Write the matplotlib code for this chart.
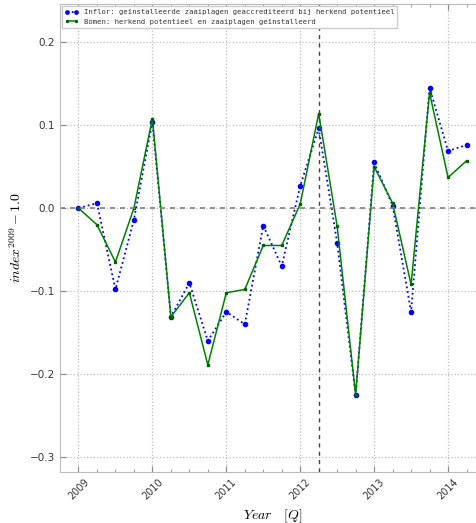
import matplotlib
matplotlib.use("Agg")
import matplotlib.pyplot as plt
from matplotlib.ticker import MultipleLocator

plt.rcParams["mathtext.fontset"] = "cm"

quarters = [2009.0, 2009.25, 2009.5, 2009.75, 2010.0, 2010.25, 2010.5, 2010.75,
            2011.0, 2011.25, 2011.5, 2011.75, 2012.0, 2012.25, 2012.5, 2012.75,
            2013.0, 2013.25, 2013.5, 2013.75, 2014.0, 2014.25]
inflor = [0.0, 0.006, -0.098, -0.014, 0.104, -0.131, -0.090, -0.160,
          -0.125, -0.140, -0.021, -0.070, 0.027, 0.096, -0.042, -0.225,
          0.055, 0.003, -0.125, 0.145, 0.069, 0.076]
bomen = [0.0, -0.020, -0.065, 0.0, 0.108, -0.131, -0.102, -0.189,
         -0.102, -0.098, -0.045, -0.045, 0.005, 0.114, -0.022, -0.225,
         0.050, 0.006, -0.092, 0.139, 0.037, 0.057]
year_ticks = [2009, 2010, 2011, 2012, 2013, 2014]
y_ticks = [-0.3, -0.2, -0.1, 0.0, 0.1, 0.2]
label_inflor = "Inflor: geïnstalleerde zaaiplagen geaccrediteerd bij herkend potentieel"
label_bomen = "Bomen: herkend potentieel en zaaiplagen geïnstalleerd"

fig = plt.figure(figsize=(4.77, 5.23), dpi=100)
ax = fig.add_axes([60/477, 1 - 472/523, 425/477, 468/523])

ax.plot(quarters, inflor, color="blue", linestyle=":", marker="o", markersize=3,
        linewidth=1.3, label=label_inflor)
ax.plot(quarters, bomen, color="green", linestyle="-", marker="s", markersize=1.6,
        markerfacecolor="darkgreen", markeredgecolor="darkgreen", linewidth=1.1,
        label=label_bomen)
ax.axhline(0.0, color="gray", linestyle="--", linewidth=1.2, dashes=(3, 3))
ax.axvline(2012.25, color="#444444", linestyle="--", linewidth=1.0, dashes=(3, 3))

ax.set_xlim(2008.75, 2014.5)
ax.set_ylim(-0.318, 0.246)
ax.set_xticks(year_ticks)
ax.set_xticklabels([str(y) for y in year_ticks], rotation=45, fontsize=7)
ax.xaxis.set_minor_locator(MultipleLocator(0.25))
ax.set_yticks(y_ticks)
ax.set_yticklabels([f"{v:.1f}".replace("-", "\u2212") for v in y_ticks], fontsize=7.5)
ax.tick_params(direction="in", top=True, right=True, which="both", colors="#888888",
               labelcolor="#333333")
ax.tick_params(which="major", length=4)
ax.tick_params(which="minor", length=2)
ax.grid(True, which="major", linestyle=":", color="#bbbbbb", linewidth=0.9)
for s in ax.spines.values():
    s.set_color("#bbbbbb")

ax.set_xlabel(r"$Year\quad[Q]$", fontsize=10)
ax.set_ylabel(r"$index^{2009}-1.0$", fontsize=10)

leg = ax.legend(loc="upper left", prop={"family": "DejaVu Sans Mono", "size": 5.2},
                numpoints=2, fancybox=False, framealpha=1, borderaxespad=0.3,
                handlelength=1.8, markerscale=0.8)
leg.get_frame().set_edgecolor("#cccccc")
for t in leg.get_texts():
    t.set_color("#333333")

fig.savefig("out.png", dpi=100)
